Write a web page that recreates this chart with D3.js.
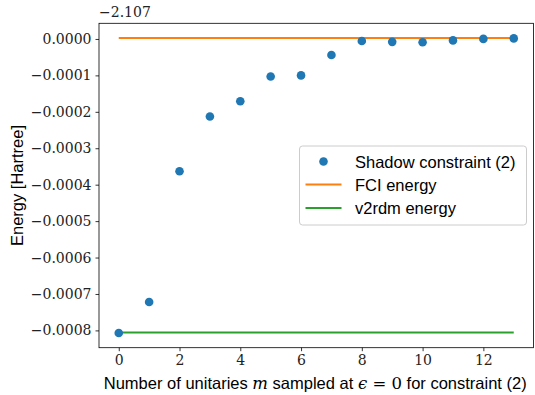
<!DOCTYPE html>
<html>
<head>
<meta charset="utf-8">
<script src="https://cdn.jsdelivr.net/npm/d3@7"></script>
<style>
  body { margin: 0; background: #fff; }
  svg { display: block; }
</style>
</head>
<body>
<div id="chart"></div>
<script>
// data (energies relative to offset -2.107 Hartree)
const unitaries = [0, 1, 2, 3, 4, 5, 6, 7, 8, 9, 10, 11, 12, 13];
const shadowEnergy = [-0.000807, -0.000722, -0.000363, -0.000213, -0.000171, -0.000103, -0.000100,
                      -0.000044, -0.0000055, -0.000008, -0.000009, -0.000004, 0.0000002, 0.0000015];
const fciEnergy = 0.0000025;
const v2rdmEnergy = -0.000806;
const xTicks = [0, 2, 4, 6, 8, 10, 12];
const yTicks = [0, -0.0001, -0.0002, -0.0003, -0.0004, -0.0005, -0.0006, -0.0007, -0.0008];
const offsetLabel = "\u22122.107";
const legendLabels = ["Shadow constraint (2)", "FCI energy", "v2rdm energy"];

const width = 535, height = 395;
const margin = {top: 23.3, right: 1.5, bottom: 47.3, left: 99};
const plotW = width - margin.left - margin.right;
const plotH = height - margin.top - margin.bottom;

const colors = {shadow: "#1f77b4", fci: "#ff7f0e", v2rdm: "#2ca02c"};
const serif = "'DejaVu Serif', 'Liberation Serif', serif";
const sans = "'Liberation Sans', Arial, sans-serif";

const svg = d3.select("#chart").append("svg")
    .attr("width", width)
    .attr("height", height);

const g = svg.append("g")
    .attr("transform", `translate(${margin.left},${margin.top})`);

// SCALES (matplotlib style 5% margins)
const xMin = d3.min(unitaries), xMax = d3.max(unitaries);
const xPad = (xMax - xMin) * 0.05;
const x = d3.scaleLinear().domain([xMin - xPad, xMax + xPad]).range([0, plotW]);

const yAll = shadowEnergy.concat([fciEnergy, v2rdmEnergy]);
const yMin = d3.min(yAll), yMax = d3.max(yAll);
const yPad = (yMax - yMin) * 0.05;
const y = d3.scaleLinear().domain([yMin - yPad, yMax + yPad]).range([plotH, 0]);

const fmtMinus = s => s.replace("-", "\u2212");

// X AXIS
const xAxisG = g.append("g")
    .attr("transform", `translate(0,${plotH})`)
    .call(d3.axisBottom(x).tickValues(xTicks).tickSize(3.5).tickPadding(4).tickFormat(d3.format("d")));
xAxisG.select(".domain").remove();
xAxisG.selectAll("line").attr("stroke", "#000").attr("stroke-width", 0.8);
xAxisG.selectAll("text").attr("font-family", serif).attr("font-size", 14).attr("fill", "#222");

// Y AXIS
const yAxisG = g.append("g")
    .call(d3.axisLeft(y).tickValues(yTicks).tickSize(3.5).tickPadding(4)
        .tickFormat(d => fmtMinus(d3.format(".4f")(d === 0 ? 0 : d))));
yAxisG.select(".domain").remove();
yAxisG.selectAll("line").attr("stroke", "#000").attr("stroke-width", 0.8);
yAxisG.selectAll("text").attr("font-family", serif).attr("font-size", 14).attr("fill", "#222");

// LINES
g.append("line")
    .attr("x1", x(xMin)).attr("x2", x(xMax))
    .attr("y1", y(fciEnergy)).attr("y2", y(fciEnergy))
    .attr("stroke", colors.fci).attr("stroke-width", 2);
g.append("line")
    .attr("x1", x(xMin)).attr("x2", x(xMax))
    .attr("y1", y(v2rdmEnergy)).attr("y2", y(v2rdmEnergy))
    .attr("stroke", colors.v2rdm).attr("stroke-width", 2);

// POINTS
g.selectAll("circle.pt")
    .data(unitaries)
    .join("circle")
    .attr("class", "pt")
    .attr("cx", d => x(d))
    .attr("cy", (d, i) => y(shadowEnergy[i]))
    .attr("r", 4.3)
    .attr("fill", colors.shadow);

// FRAME
g.append("rect")
    .attr("width", plotW).attr("height", plotH)
    .attr("fill", "none").attr("stroke", "#000").attr("stroke-width", 0.8);

// OFFSET TEXT
g.append("text")
    .attr("x", 0).attr("y", -6)
    .attr("font-family", serif).attr("font-size", 14).attr("fill", "#222")
    .text(offsetLabel);

// AXIS LABELS
const xl = svg.append("text")
    .attr("x", margin.left + plotW / 2 - 1).attr("y", 388.5)
    .attr("text-anchor", "middle")
    .attr("font-family", sans).attr("font-size", 16.5).attr("fill", "#000");
xl.append("tspan").text("Number of unitaries ");
xl.append("tspan").attr("font-family", serif).attr("font-style", "italic").text("m");
xl.append("tspan").text(" sampled at ");
xl.append("tspan").attr("font-family", serif).attr("font-style", "italic").text("\u03F5");
xl.append("tspan").attr("font-family", serif).text(" = 0");
xl.append("tspan").text(" for constraint (2)");

svg.append("text")
    .attr("transform", `translate(23,${margin.top + plotH / 2}) rotate(-90)`)
    .attr("text-anchor", "middle")
    .attr("font-family", sans).attr("font-size", 16.5).attr("fill", "#000")
    .text("Energy [Hartree]");

// LEGEND
const leg = svg.append("g").attr("transform", "translate(299.5,146)");
leg.append("rect")
    .attr("width", 227).attr("height", 79).attr("rx", 3)
    .attr("fill", "#fff").attr("fill-opacity", 0.8)
    .attr("stroke", "#ccc").attr("stroke-width", 1);
const rowY = [15.5, 38.5, 62];
leg.append("circle").attr("cx", 24).attr("cy", rowY[0]).attr("r", 4.3).attr("fill", colors.shadow);
leg.append("line").attr("x1", 6).attr("x2", 42).attr("y1", rowY[1]).attr("y2", rowY[1])
    .attr("stroke", colors.fci).attr("stroke-width", 2);
leg.append("line").attr("x1", 6).attr("x2", 42).attr("y1", rowY[2]).attr("y2", rowY[2])
    .attr("stroke", colors.v2rdm).attr("stroke-width", 2);
leg.selectAll("text.lbl")
    .data(legendLabels)
    .join("text")
    .attr("class", "lbl")
    .attr("x", 55.5)
    .attr("y", (d, i) => rowY[i] + 6)
    .attr("font-family", sans).attr("font-size", 16.5).attr("fill", "#000")
    .text(d => d);
</script>
</body>
</html>
